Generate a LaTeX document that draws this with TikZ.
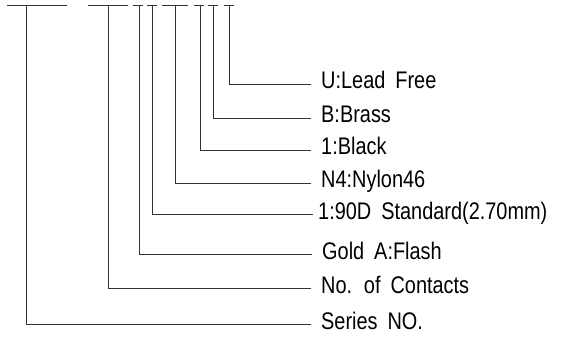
\documentclass[tikz,border=0pt]{standalone}
\usepackage{fontspec}
\setmainfont{Liberation Sans}[FakeStretch=0.83,WordSpace=1.8]
\usetikzlibrary{positioning}

\begin{document}
\begin{tikzpicture}[x=1pt, y=-1pt]
  % styles
  \tikzset{
    lead/.style={draw=black!80, line width=0.9pt},
    tag/.style={anchor=west, inner ysep=0pt, text height=10pt, text depth=0pt,
                font=\fontsize{24}{24}\selectfont}
  }
  \useasboundingbox (0,0) rectangle (586,339);

  % code underlines (top edge)
  \def\ytop{5.5}
  \foreach \a/\b in {7/67, 88/128, 133/143, 147/157, 162/188, 194/204, 208/218, 224/234}
    \draw[lead] (\a,\ytop) -- (\b,\ytop);

  % leaders and their labels
  \foreach \n/\xb/\yl/\xe/\sep/\txt in {
      1/229/84/311/10/{U:Lead Free},
      2/213/118/311/10/{B:Brass},
      3/200/150/311/10/{1:Black},
      4/175/183/311/10/{N4:Nylon46},
      5/152/214/313/5/{1:90D Standard(2.70mm)},
      6/139/254/312/10/{Gold A:Flash},
      7/108/288/311/10/{No. of Contacts},
      8/26/324/311/10/{Series NO.}}
  {
    \coordinate (t\n) at (\xb,\ytop);
    \node[tag, inner xsep=\sep pt] (l\n) at (\xe,\yl) {\txt};
    \draw[lead] (t\n) |- (l\n.west);
  }
\end{tikzpicture}
\end{document}
